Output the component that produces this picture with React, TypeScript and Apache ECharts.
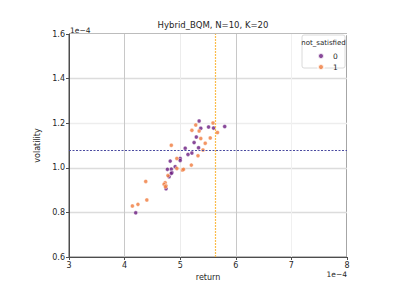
import React, { useEffect, useRef } from "react";
import * as echarts from "echarts";

const title = "Hybrid_BQM, N=10, K=20";
const xTicks = [3, 4, 5, 6, 7, 8];
const yTicks = [0.6, 0.8, 1.0, 1.2, 1.4, 1.6];
const groupNames = ["0", "1"];
// [return (1e-4), volatility (1e-4)]
const satisfied0: number[][] = [
  [5.34, 1.21], [5.37, 1.177], [5.51, 1.183], [5.6, 1.178], [5.8, 1.185],
  [5.25, 1.113], [5.29, 1.138], [5.33, 1.09], [5.09, 1.088], [5.21, 1.066],
  [5.14, 1.06], [5.0, 1.042], [5.0, 1.033], [4.82, 1.03], [4.91, 1.005],
  [4.84, 0.994], [4.77, 0.993], [4.85, 0.979], [4.84, 0.975], [4.8, 0.96],
  [4.745, 0.906], [4.2, 0.798],
];
const notSatisfied1: number[][] = [
  [4.84, 1.101], [5.21, 1.168], [5.28, 1.192], [5.34, 1.165], [5.37, 1.131],
  [5.45, 1.11], [5.54, 1.134], [5.59, 1.201], [5.67, 1.158], [5.41, 1.08],
  [5.32, 1.054], [4.94, 1.042], [5.2, 1.012], [4.94, 0.997], [5.04, 0.99],
  [5.06, 0.993], [4.78, 0.965], [4.38, 0.939], [4.73, 0.933], [4.71, 0.926],
  [4.745, 0.919], [4.735, 0.915], [4.4, 0.856], [4.24, 0.836], [4.14, 0.829],
];
const returnThreshold = 5.63;
const volatilityThreshold = 1.083;

const FONT = "DejaVu Sans";
const TXT = "#262626";

export default function App() {
  const ref = useRef<HTMLDivElement>(null);
  useEffect(() => {
    if (!ref.current) return;
    const chart = echarts.init(ref.current, undefined, { renderer: "svg" });
    const marker = (color: string) => ({
      color,
      borderColor: "#ffffff",
      borderWidth: 0.5,
    });
    chart.setOption({
      animation: false,
      backgroundColor: "#ffffff",
      textStyle: { fontFamily: FONT },
      title: {
        text: title,
        left: 208,
        textAlign: "center",
        top: 15,
        textStyle: { fontFamily: FONT, fontSize: 8.5, fontWeight: "normal", color: TXT },
      },
      grid: { left: 69, right: 60, top: 34, bottom: 31, show: true, borderColor: "#4d4d4d", borderWidth: 1 },
      xAxis: {
        type: "value",
        min: 3,
        max: 8,
        interval: 1,
        name: "return",
        nameLocation: "middle",
        nameGap: 12,
        nameTextStyle: { fontFamily: FONT, fontSize: 8, color: TXT },
        axisLine: { show: true, lineStyle: { color: "#4d4d4d", width: 1 } },
        axisTick: { show: true, length: 3, lineStyle: { color: "#4d4d4d" } },
        axisLabel: { fontFamily: FONT, fontSize: 8, color: TXT, margin: 4, formatter: (v: number) => String(v) },
        splitLine: {
          show: true,
          lineStyle: { color: ["#ffffff", "#c8c8c8", "#ececec", "#c8c8c8", "#f0f0f0", "#ffffff"], width: 1 },
        },
      },
      yAxis: {
        type: "value",
        min: 0.6,
        max: 1.6,
        interval: 0.2,
        name: "volatility",
        nameLocation: "middle",
        nameGap: 17,
        nameRotate: 90,
        nameTextStyle: { fontFamily: FONT, fontSize: 8, color: TXT },
        axisLine: { show: true, lineStyle: { color: "#4d4d4d", width: 1 } },
        axisTick: { show: true, length: 3, lineStyle: { color: "#4d4d4d" } },
        axisLabel: { fontFamily: FONT, fontSize: 8, color: TXT, margin: 4, formatter: (v: number) => v.toFixed(1) },
        splitLine: {
          show: true,
          lineStyle: { color: ["#ffffff", "#dcdcdc", "#dcdcdc", "#ededed", "#dcdcdc", "#ffffff"], width: 1.3 },
        },
      },
      legend: {
        orient: "vertical",
        left: 312,
        top: 47,
        itemGap: 3,
        itemWidth: 6,
        itemHeight: 6,
        textStyle: { fontFamily: FONT, fontSize: 7.5, color: TXT, padding: [0, 0, 0, 4] },
        data: [
          { name: groupNames[0], icon: "circle" },
          { name: groupNames[1], icon: "circle" },
        ],
      },
      graphic: [
        {
          type: "rect",
          shape: { x: 302, y: 35, width: 43, height: 33, r: 2 },
          style: { fill: "rgba(255,255,255,0.85)", stroke: "#d0d0d0", lineWidth: 0.8 },
          z: 1,
        },
        {
          type: "text",
          x: 323.5,
          y: 39,
          style: { text: "not_satisfied", fontFamily: FONT, fontSize: 7, fill: TXT, textAlign: "center" },
          z: 5,
        },
        {
          type: "text",
          x: 70,
          y: 26,
          style: { text: "1e\u22124", fontFamily: FONT, fontSize: 7.5, fill: TXT },
          z: 5,
        },
        {
          type: "text",
          x: 347,
          y: 270,
          style: { text: "1e\u22124", fontFamily: FONT, fontSize: 7.5, fill: TXT, textAlign: "right" },
          z: 5,
        },
      ],
      series: [
        {
          name: groupNames[0],
          type: "scatter",
          data: satisfied0,
          symbolSize: 4,
          itemStyle: marker("#6a1b7f"),
          z: 3,
          markLine: {
            silent: true,
            symbol: "none",
            label: { show: false },
            lineStyle: { color: "#4a4aa0", type: [2, 1.5], width: 1, opacity: 1 },
            data: [{ yAxis: volatilityThreshold }],
          },
        },
        {
          name: groupNames[1],
          type: "scatter",
          data: notSatisfied1,
          symbolSize: 4,
          itemStyle: marker("#f07a3c"),
          z: 3,
          markLine: {
            silent: true,
            symbol: "none",
            label: { show: false },
            lineStyle: { color: "#fbbc4a", type: [2, 1], width: 1.2, opacity: 1 },
            data: [{ xAxis: returnThreshold }],
          },
        },
      ],
    });
    return () => chart.dispose();
  }, []);
  return <div ref={ref} style={{ width: 407, height: 288, position: "absolute", left: 0, top: 0 }} />;
}
